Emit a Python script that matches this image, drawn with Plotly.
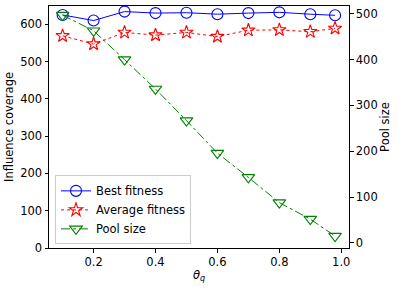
import plotly.graph_objects as go

theta = [0.1, 0.2, 0.3, 0.4, 0.5, 0.6, 0.7, 0.8, 0.9, 0.98]
best_fitness = [625, 610, 634, 630, 631, 627, 630, 632, 627, 624]
avg_fitness = [569, 547, 578, 571, 578, 567, 584, 585, 580, 589]
pool_size = [497, 463, 400, 336, 267, 196, 143, 88, 52, 15]

x_ticks = [0.2, 0.4, 0.6, 0.8, 1.0]
left_ticks = [0, 100, 200, 300, 400, 500, 600]
right_ticks = [0, 100, 200, 300, 400, 500]

FS = 11.5
font = dict(family="DejaVu Sans", size=FS, color="black")

fig = go.Figure()
fig.add_trace(go.Scatter(
    x=theta, y=best_fitness, name="Best fitness", mode="lines+markers",
    line=dict(color="blue", width=1, dash="solid"),
    marker=dict(symbol="circle-open", size=11, color="blue", line=dict(width=1.1)),
))
fig.add_trace(go.Scatter(
    x=theta, y=avg_fitness, name="Average fitness", mode="lines+markers",
    line=dict(color="red", width=1, dash="dot"),
    marker=dict(symbol="star-open", size=10, color="red", line=dict(width=1.1)),
))
fig.add_trace(go.Scatter(
    x=theta, y=pool_size, name="Pool size", mode="lines+markers", yaxis="y2",
    line=dict(color="green", width=1, dash="dashdot"),
    marker=dict(symbol="triangle-down-open", size=11, color="green", line=dict(width=1.1)),
))

axis_common = dict(
    showgrid=False, zeroline=False, showline=True, linecolor="black", linewidth=1,
    ticks="outside", ticklen=3.5, tickcolor="black", automargin=False,
    tickfont=dict(family="DejaVu Sans", size=FS, color="black"),
)

fig.update_layout(
    width=399, height=289,
    margin=dict(l=49, r=50, t=6, b=41),
    paper_bgcolor="white", plot_bgcolor="white",
    font=font,
    showlegend=True,
    legend=dict(
        x=0.02, y=0.015, xanchor="left", yanchor="bottom",
        bordercolor="#cccccc", borderwidth=1, bgcolor="rgba(255,255,255,0.8)",
        font=dict(family="DejaVu Sans", size=11.5, color="black"),
        tracegroupgap=0, itemwidth=30,
    ),
    xaxis=dict(
        range=[0.056, 1.025], tickvals=x_ticks, ticktext=["0.2", "0.4", "0.6", "0.8", "1.0"],
        mirror=True,
        title=dict(text="<i>θ</i><sub><i>q</i></sub>", standoff=2, font=dict(size=FS)),
        **axis_common,
    ),
    yaxis=dict(
        range=[0, 649], tickvals=left_ticks,
        title=dict(text="Influence coverage", standoff=4, font=dict(size=FS)),
        **axis_common,
    ),
    yaxis2=dict(
        range=[-11, 517], tickvals=right_ticks, overlaying="y", side="right",
        title=dict(text="Pool size", standoff=4, font=dict(size=FS)),
        **axis_common,
    ),
)

fig.write_html("out.html", config={"displayModeBar": False},
               post_script="document.body.style.margin='0';")
